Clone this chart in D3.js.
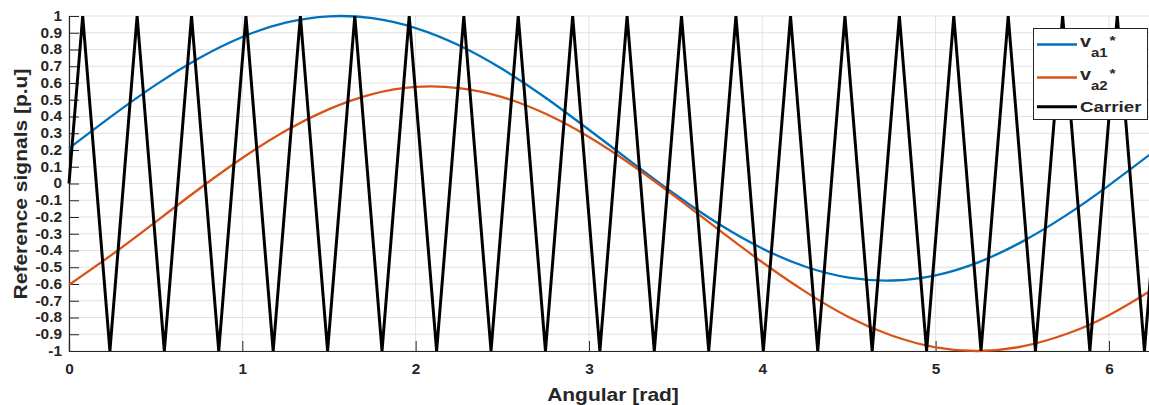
<!DOCTYPE html>
<html>
<head>
<meta charset="utf-8">
<script src="https://cdn.jsdelivr.net/npm/d3@7"></script>
<style>
  body { margin: 0; background: #fff; }
  svg text { font-family: "Liberation Sans", Arial, sans-serif; font-weight: bold; fill: #262626; }
</style>
</head>
<body>
<svg id="chart" width="1149" height="405"></svg>
<script>
// angle samples [rad] for the two reference signals
var angles = [0, 0.25, 0.5, 0.75, 1.0, 1.25, 1.5, 1.75, 2.0, 2.25, 2.5, 2.75, 3.0, 3.25,
  3.5, 3.75, 4.0, 4.25, 4.5, 4.75, 5.0, 5.25, 5.5, 5.75, 6.0, 6.25, 6.283];

var va1 = [0.21, 0.405, 0.589, 0.748, 0.875, 0.960, 0.998, 0.987, 0.928, 0.825, 0.683, 0.512,
  0.321, 0.125, -0.067, -0.242, -0.388, -0.497, -0.562, -0.579, -0.548, -0.469, -0.347,
  -0.192, -0.011, 0.184, 0.21];

var va2 = [-0.605, -0.423, -0.229, -0.033, 0.152, 0.315, 0.444, 0.534, 0.577, 0.570, 0.516,
  0.416, 0.278, 0.109, -0.080, -0.277, -0.470, -0.647, -0.798, -0.909, -0.978, -1.000,
  -0.973, -0.900, -0.786, -0.633, -0.605];

// carrier corners
var carrierX = [0, 0.079, 0.236, 0.393, 0.550, 0.707, 0.864, 1.021, 1.178, 1.335, 1.492,
  1.649, 1.806, 1.963, 2.121, 2.278, 2.435, 2.592, 2.749, 2.906, 3.063, 3.220, 3.377,
  3.534, 3.691, 3.848, 4.006, 4.163, 4.320, 4.477, 4.634, 4.791, 4.948, 5.105, 5.262,
  5.419, 5.576, 5.733, 5.890, 6.048, 6.205, 6.283];
var carrierY = [0, 1, -1, 1, -1, 1, -1, 1, -1, 1, -1, 1, -1, 1, -1, 1, -1, 1, -1, 1, -1,
  1, -1, 1, -1, 1, -1, 1, -1, 1, -1, 1, -1, 1, -1, 1, -1, 1, -1, 1, -1, 0];

var xTicks = [0, 1, 2, 3, 4, 5, 6];
var yTicks = [-1, -0.9, -0.8, -0.7, -0.6, -0.5, -0.4, -0.3, -0.2, -0.1, 0,
  0.1, 0.2, 0.3, 0.4, 0.5, 0.6, 0.7, 0.8, 0.9, 1];

// text in the figure is drawn wide
var stretch = 1.2;
var tickStretch = 1.1;
var legendStretch = 1.25;

var svg = d3.select("#chart");

var x = d3.scaleLinear().domain([0, 6.2832]).range([69, 1158]);
var y = d3.scaleLinear().domain([-1, 1]).range([351, 16]);

// grid
svg.append("g").selectAll("line")
  .data(yTicks)
  .enter().append("line")
  .attr("x1", x(0)).attr("x2", x(6.2832))
  .attr("y1", function(d) { return y(d); })
  .attr("y2", function(d) { return y(d); })
  .attr("stroke", "#e1e1e1").attr("stroke-width", 1);

svg.append("g").selectAll("line")
  .data(xTicks)
  .enter().append("line")
  .attr("y1", y(-1)).attr("y2", y(1))
  .attr("x1", function(d) { return x(d); })
  .attr("x2", function(d) { return x(d); })
  .attr("stroke", "#e1e1e1").attr("stroke-width", 1);

// axes
var yAxis = d3.axisLeft(y).tickValues(yTicks).tickSize(-10)
  .tickFormat(function(d) { return String(d); });
var xAxis = d3.axisBottom(x).tickValues(xTicks).tickSize(-10)
  .tickFormat(function(d) { return String(d); });

var gy = svg.append("g").attr("transform", "translate(" + x(0) + ",0)").call(yAxis);
var gx = svg.append("g").attr("transform", "translate(0," + y(-1) + ")").call(xAxis);

[gy, gx].forEach(function(g) {
  g.attr("font-family", null).attr("font-size", null);
  g.select(".domain").attr("stroke", "#262626").attr("stroke-width", 1.2);
  g.selectAll(".tick line").attr("stroke", "#262626");
  g.selectAll(".tick text")
    .style("font-size", "14px")
    .attr("fill", "#262626");
});

gy.selectAll(".tick text")
  .attr("x", 0)
  .attr("transform", "translate(-7,0) scale(" + tickStretch + ",1)");
gx.selectAll(".tick text")
  .attr("y", 0)
  .attr("transform", "translate(0,13.5) scale(" + tickStretch + ",1)");

// lines
function series(xs, ys) {
  return xs.map(function(v, i) { return [v, ys[i]]; });
}

var smooth = d3.line()
  .x(function(d) { return x(d[0]); })
  .y(function(d) { return y(d[1]); })
  .curve(d3.curveNatural);

var straight = d3.line()
  .x(function(d) { return x(d[0]); })
  .y(function(d) { return y(d[1]); });

svg.append("path")
  .datum(series(angles, va1))
  .attr("d", smooth)
  .attr("fill", "none").attr("stroke", "#0072BD").attr("stroke-width", 2.3);

svg.append("path")
  .datum(series(angles, va2))
  .attr("d", smooth)
  .attr("fill", "none").attr("stroke", "#D95319").attr("stroke-width", 2.3);

svg.append("path")
  .datum(series(carrierX, carrierY))
  .attr("d", straight)
  .attr("fill", "none").attr("stroke", "#000").attr("stroke-width", 3)
  .attr("stroke-linejoin", "miter").attr("stroke-miterlimit", 10);

// axis titles
svg.append("text")
  .attr("transform", "translate(613,401) scale(" + stretch + ",1)")
  .attr("text-anchor", "middle")
  .style("font-size", "17.5px")
  .text("Angular [rad]");

svg.append("text")
  .attr("transform", "translate(27,184) rotate(-90) scale(" + stretch + ",1)")
  .attr("text-anchor", "middle")
  .style("font-size", "17.5px")
  .text("Reference signals [p.u]");

// legend
var legend = svg.append("g");
legend.append("rect")
  .attr("x", 1033.5).attr("y", 28.5).attr("width", 114).attr("height", 91)
  .attr("fill", "#fff").attr("stroke", "#262626").attr("stroke-width", 1);

var legendItems = [
  { color: "#0072BD", sub: "a1", y: 44.5 },
  { color: "#D95319", sub: "a2", y: 77.5 }
];

legendItems.forEach(function(d) {
  legend.append("line")
    .attr("x1", 1037).attr("x2", 1077).attr("y1", d.y).attr("y2", d.y)
    .attr("stroke", d.color).attr("stroke-width", 2.3);
  var t = legend.append("text")
    .attr("transform", "translate(1080," + (d.y + 2.5) + ") scale(" + stretch + ",1)")
    .style("font-size", "16.5px");
  t.append("tspan").text("v");
  t.append("tspan").attr("dy", 9.5).style("font-size", "12.5px").text(d.sub);
  t.append("tspan").attr("dy", -12).attr("dx", 1.5).style("font-size", "13px").text("*");
});

legend.append("line")
  .attr("x1", 1037).attr("x2", 1077).attr("y1", 106.7).attr("y2", 106.7)
  .attr("stroke", "#000").attr("stroke-width", 3);
legend.append("text")
  .attr("transform", "translate(1080,112.3) scale(" + legendStretch + ",1)")
  .style("font-size", "15px")
  .text("Carrier");
</script>
</body>
</html>
